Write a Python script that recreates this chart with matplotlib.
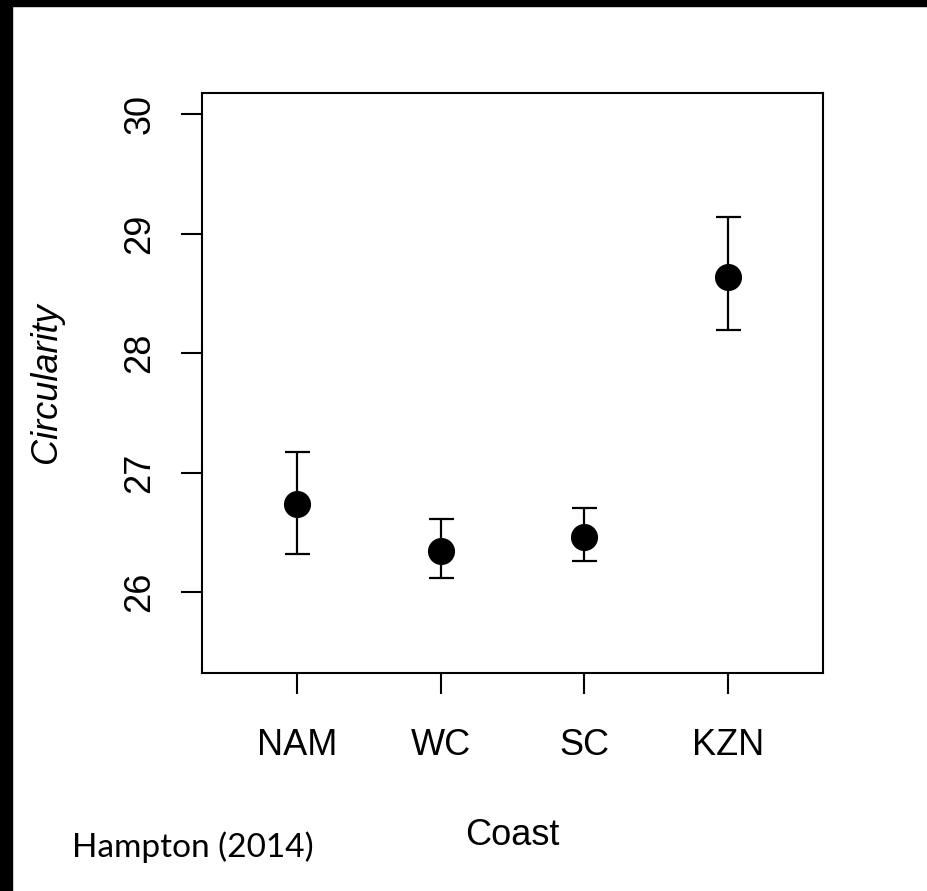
import numpy as np
import matplotlib
matplotlib.use("Agg")
import matplotlib.pyplot as plt
from matplotlib.patches import Rectangle

# ----------------------------------------------------------------------------
# Data: mean circularity per coast with error bar limits
# ----------------------------------------------------------------------------
coasts = ["NAM", "WC", "SC", "KZN"]
means = [26.74, 26.34, 26.46, 28.64]
lower = [26.32, 26.12, 26.26, 28.19]
upper = [27.17, 26.61, 26.70, 29.14]
yticks = [26, 27, 28, 29, 30]

W, H, DPI = 928, 891, 100
plt.rcParams["font.family"] = ["Liberation Sans", "DejaVu Sans"]

fig = plt.figure(figsize=(W / DPI, H / DPI), dpi=DPI)
fig.patch.set_facecolor("white")

# thick black frame on the left and top edges
fig.patches.append(Rectangle((0, 0), 12 / W, 1, transform=fig.transFigure,
                             color="black", zorder=10))
fig.patches.append(Rectangle((0, 1 - 6 / H), 1, 6 / H, transform=fig.transFigure,
                             color="black", zorder=10))

ax = fig.add_axes([202 / W, 1 - 673 / H, (823 - 202) / W, (673 - 93) / H])

x = np.arange(1, len(coasts) + 1)
m = np.array(means)
yerr = [m - np.array(lower), np.array(upper) - m]

ax.errorbar(x, m, yerr=yerr, fmt="o", color="black", markersize=18.5,
            elinewidth=1.6, capsize=9, capthick=1.6)

# R-style ranges with 4% padding
xlim = (0.5, 4.5)
ylim = (25.5, 30.0)
px = 0.04 * (xlim[1] - xlim[0])
py = 0.04 * (ylim[1] - ylim[0])
ax.set_xlim(xlim[0] - px, xlim[1] + px)
ax.set_ylim(ylim[0] - py, ylim[1] + py)

ax.set_xticks(x)
ax.set_xticklabels(coasts)
ax.set_yticks(yticks)
ax.set_yticklabels([str(t) for t in yticks], rotation=90, va="center")

ax.tick_params(axis="both", direction="out", length=15, width=1.5,
               labelsize=26, colors="black")
ax.tick_params(axis="x", pad=24.5)
ax.tick_params(axis="y", pad=17)

for s in ax.spines.values():
    s.set_linewidth(1.5)

ax.set_xlabel("Coast", fontsize=26, labelpad=40)
ax.set_ylabel("Circularity", fontsize=26, style="italic", labelpad=42)

fig.text(72 / W, 1 - 847 / H, "Hampton (2014)", fontsize=24,
         family=["Lato", "DejaVu Sans"], va="center", ha="left")

fig.savefig("out.png", dpi=DPI)
